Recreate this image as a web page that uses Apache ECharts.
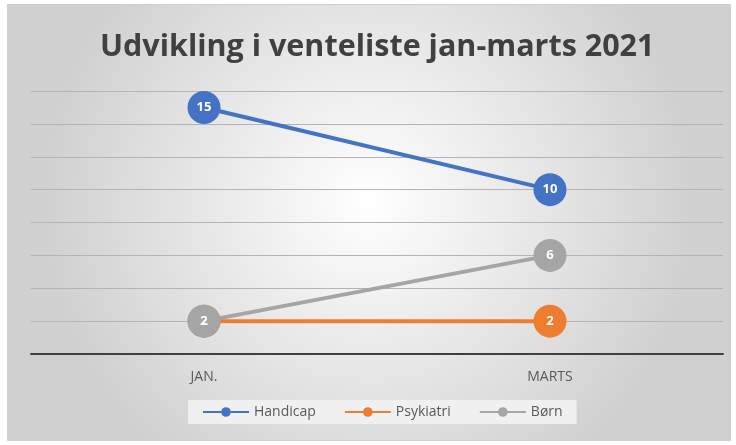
<!DOCTYPE html>
<html>
<head>
<meta charset="utf-8">
<script src="https://cdn.jsdelivr.net/npm/echarts@6/dist/echarts.min.js"></script>
<style>
  html, body { margin: 0; padding: 0; background: #fff; }
  #chart { position: absolute; left: 7px; top: 4px; width: 722px; height: 435px; border: 1px solid #d0d0d0; }
</style>
</head>
<body>
<div id="chart"></div>
<script>
var months = ['JAN.', 'MARTS'];
var handicap = [15, 10];
var psykiatri = [2, 2];
var born = [2, 6];

var chart = echarts.init(document.getElementById('chart'));

function serie(name, data, color) {
    return {
        name: name,
        type: 'line',
        data: data,
        symbol: 'circle',
        symbolSize: 33,
        color: color,
        lineStyle: { width: 4, color: color },
        itemStyle: { color: color },
        label: {
            show: true,
            position: 'inside',
            color: '#fff',
            fontWeight: 'bold',
            fontSize: 13,
            fontFamily: 'Open Sans'
        }
    };
}

chart.setOption({
    animation: false,
    backgroundColor: {
        type: 'radial', x: 0.5, y: 0.45, r: 0.75,
        colorStops: [
            { offset: 0, color: '#ffffff' },
            { offset: 1, color: '#d0d0d0' }
        ]
    },
    title: {
        text: 'Udvikling i venteliste jan-marts 2021',
        left: 92,
        top: 27,
        padding: 0,
        textStyle: {
            fontFamily: 'Open Sans',
            fontWeight: 'bold',
            fontSize: 30.5,
            color: '#404040'
        }
    },
    legend: {
        data: ['Handicap', 'Psykiatri', 'Børn'],
        left: 180,
        top: 395,
        padding: [5, 14],
        itemWidth: 46,
        itemHeight: 12,
        itemGap: 28,
        backgroundColor: 'rgba(242,242,242,0.9)',
        textStyle: { fontFamily: 'Open Sans', fontSize: 14, color: '#595959' }
    },
    grid: { left: 23, right: 7, top: 86, bottom: 86 },
    xAxis: {
        type: 'category',
        data: months,
        boundaryGap: true,
        axisTick: { show: false },
        axisLine: { lineStyle: { color: '#404040', width: 2 } },
        axisLabel: { margin: 16, fontFamily: 'Open Sans', fontSize: 14, color: '#595959' }
    },
    yAxis: {
        type: 'value',
        min: 0,
        max: 16,
        interval: 2,
        axisLabel: { show: false },
        axisLine: { show: false },
        axisTick: { show: false },
        splitLine: { lineStyle: { color: '#b4b4b4', width: 1 } }
    },
    series: [
        serie('Handicap', handicap, '#4472C4'),
        serie('Psykiatri', psykiatri, '#ED7D31'),
        serie('Børn', born, '#A5A5A5')
    ]
});
</script>
</body>
</html>
